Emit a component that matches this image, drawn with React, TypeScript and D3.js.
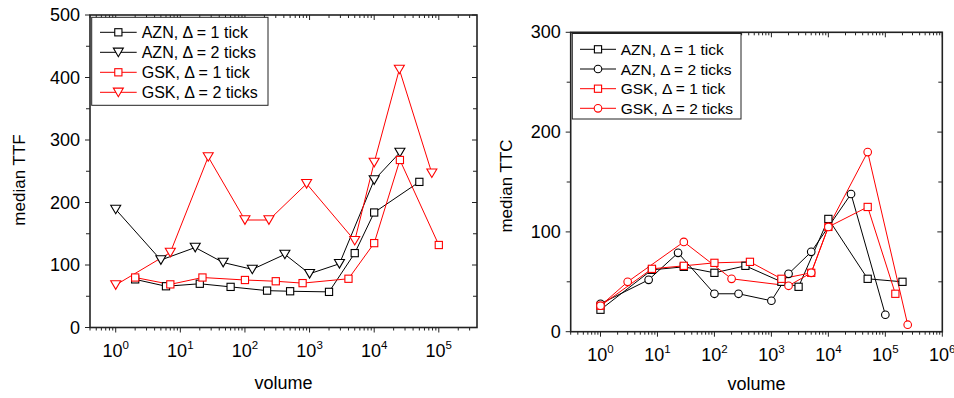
import React from "react";
import * as d3 from "d3";

// ---------- Data: left panel (median TTF) ----------
const aznTick1Vol = [2, 6, 20, 60, 220, 500, 2000, 5000, 10000, 50000];
const aznTick1TTF = [77, 66, 70, 65, 59, 58, 57, 119, 184, 233];
const aznTick2Vol = [1, 5, 17, 46, 130, 415, 1000, 2900, 10000, 25000];
const aznTick2TTF = [189, 108, 128, 104, 93, 117, 86, 102, 236, 280];
const gskTick1Vol = [2, 7, 22, 100, 300, 780, 4000, 10000, 25000, 100000];
const gskTick1TTF = [80, 69, 80, 76, 74, 71, 78, 135, 268, 132];
const gskTick2Vol = [1, 7, 27, 100, 235, 900, 5000, 10000, 24500, 78000];
const gskTick2TTF = [68, 120, 273, 172, 172, 230, 139, 264, 413, 247];

// ---------- Data: right panel (median TTC) ----------
const aznC1Vol = [1, 8, 29, 100, 350, 1500, 3000, 10000, 49000, 200000];
const aznC1TTC = [22, 62, 65, 59, 66, 50, 45, 113, 53, 50];
const aznC2Vol = [1, 7, 23, 100, 265, 1000, 2000, 5000, 25000, 100000];
const aznC2TTC = [28, 52, 79, 38, 38, 31, 58, 80, 138, 17];
const gskC1Vol = [1, 8, 29, 100, 420, 1500, 5000, 10000, 49000, 150000];
const gskC1TTC = [26, 63, 66, 69, 70, 53, 59, 105, 125, 38];
const gskC2Vol = [1, 3, 29, 200, 2000, 5000, 10000, 49000, 247000];
const gskC2TTC = [26, 50, 90, 53, 46, 59, 105, 180, 7];

const leftLabels = ["AZN, \u0394 = 1 tick", "AZN, \u0394 = 2 ticks", "GSK, \u0394 = 1 tick", "GSK, \u0394 = 2 ticks"];
const rightLabels = leftLabels;

const FONT = "'Liberation Sans', Arial, Helvetica, sans-serif";

type Shape = "square" | "triangle" | "circle";
type Series = { xs: number[]; ys: number[]; color: string; shape: Shape; label: string };

function Marker({ shape, x, y, color }: { shape: Shape; x: number; y: number; color: string }) {
  if (shape === "square")
    return <rect x={x - 3.6} y={y - 3.6} width={7.2} height={7.2} fill="white" stroke={color} strokeWidth={1.1} />;
  if (shape === "circle") return <circle cx={x} cy={y} r={3.8} fill="white" stroke={color} strokeWidth={1.1} />;
  return (
    <polygon
      points={`${x - 5},${y - 4.2} ${x + 5},${y - 4.2} ${x},${y + 4.4}`}
      fill="white"
      stroke={color}
      strokeWidth={1.1}
    />
  );
}

type PanelProps = {
  x0: number; x1: number; y0: number; y1: number;
  xDomain: [number, number]; yMax: number; yMinorStep: number; yMajorStep: number;
  series: Series[]; yTitle: string; yTitleX: number; yTitleY: number; xTitleY: number;
  legend: { x: number; y: number; w: number; h: number; rows: number[]; lx0: number; lx1: number; tx: number; fs: number };
};

function Panel(p: PanelProps) {
  const xs = d3.scaleLog().domain(p.xDomain).range([p.x0, p.x1]);
  const ys = d3.scaleLinear().domain([0, p.yMax]).range([p.y1, p.y0]);
  const xt = xs.ticks();
  const yt = d3.range(0, p.yMax + 0.001, p.yMinorStep);
  const line = d3.line<[number, number]>().x((d) => xs(d[0])).y((d) => ys(d[1]));
  const isMajorX = (t: number) => Math.abs(Math.log10(t) - Math.round(Math.log10(t))) < 1e-9;
  const axisColor = "#222";
  return (
    <g fontFamily={FONT}>
      {p.series.map((s, i) => (
        <path key={"l" + i} d={line(s.xs.map((x, j) => [x, s.ys[j]]) as [number, number][]) || ""} fill="none" stroke={s.color} strokeWidth={1} />
      ))}
      {p.series.map((s, i) => (
        <g key={"m" + i}>
          {s.xs.map((x, j) => (
            <Marker key={j} shape={s.shape} x={xs(x)} y={ys(s.ys[j])} color={s.color} />
          ))}
        </g>
      ))}
      {xt.map((t, i) => {
        const X = xs(t);
        const len = isMajorX(t) ? 5 : 3;
        return (
          <g key={"xt" + i}>
            <line x1={X} x2={X} y1={p.y1} y2={p.y1 + len} stroke={axisColor} strokeWidth={1} />
            <line x1={X} x2={X} y1={p.y0} y2={p.y0 + len} stroke={axisColor} strokeWidth={1} />
          </g>
        );
      })}
      {xt.filter(isMajorX).map((t, i) => (
        <text key={"xl" + i} x={xs(t)} y={p.y1 + 29} fontSize={18} textAnchor="middle" fill="#000">
          10
          <tspan fontSize={11.5} dy={-8}>
            {Math.round(Math.log10(t))}
          </tspan>
        </text>
      ))}
      {yt.map((t, i) => {
        const Y = ys(t);
        const major = Math.abs(t % p.yMajorStep) < 1e-9;
        const len = major ? 5 : 4;
        return (
          <g key={"yt" + i}>
            <line x1={p.x0 - len} x2={p.x0} y1={Y} y2={Y} stroke={axisColor} strokeWidth={1} />
            <line x1={p.x1 - len} x2={p.x1} y1={Y} y2={Y} stroke={axisColor} strokeWidth={1} />
            {major && (
              <text x={p.x0 - 10} y={Y + 6} fontSize={18} textAnchor="end" fill="#000">
                {t}
              </text>
            )}
          </g>
        );
      })}
      <rect x={p.x0} y={p.y0} width={p.x1 - p.x0} height={p.y1 - p.y0} fill="none" stroke={axisColor} strokeWidth={1.6} />
      <rect x={p.legend.x} y={p.legend.y} width={p.legend.w} height={p.legend.h} fill="white" stroke={axisColor} strokeWidth={1} />
      {p.series.map((s, i) => {
        const ry = p.legend.rows[i];
        return (
          <g key={"lg" + i}>
            <line x1={p.legend.lx0} x2={p.legend.lx1} y1={ry} y2={ry} stroke={s.color} strokeWidth={1} />
            <Marker shape={s.shape} x={(p.legend.lx0 + p.legend.lx1) / 2} y={ry} color={s.color} />
            <text x={p.legend.tx} y={ry + p.legend.fs * 0.36} fontSize={p.legend.fs} fill="#000">
              {s.label}
            </text>
          </g>
        );
      })}
      <text x={(p.x0 + p.x1) / 2} y={p.xTitleY} fontSize={18} textAnchor="middle" fill="#000">
        volume
      </text>
      <text
        transform={`translate(${p.yTitleX},${p.yTitleY}) rotate(-90)`}
        fontSize={17}
        textAnchor="middle"
        fill="#000"
      >
        {p.yTitle}
      </text>
    </g>
  );
}

export default function App() {
  const black = "#000000";
  const red = "#ff0000";
  const leftSeries: Series[] = [
    { xs: aznTick1Vol, ys: aznTick1TTF, color: black, shape: "square", label: leftLabels[0] },
    { xs: aznTick2Vol, ys: aznTick2TTF, color: black, shape: "triangle", label: leftLabels[1] },
    { xs: gskTick1Vol, ys: gskTick1TTF, color: red, shape: "square", label: leftLabels[2] },
    { xs: gskTick2Vol, ys: gskTick2TTF, color: red, shape: "triangle", label: leftLabels[3] },
  ];
  const rightSeries: Series[] = [
    { xs: aznC1Vol, ys: aznC1TTC, color: black, shape: "square", label: rightLabels[0] },
    { xs: aznC2Vol, ys: aznC2TTC, color: black, shape: "circle", label: rightLabels[1] },
    { xs: gskC1Vol, ys: gskC1TTC, color: red, shape: "square", label: rightLabels[2] },
    { xs: gskC2Vol, ys: gskC2TTC, color: red, shape: "circle", label: rightLabels[3] },
  ];
  return (
    <svg
      width={954}
      height={398}
      style={{ position: "absolute", left: 0, top: 0, background: "white" }}
    >
      <rect width={954} height={398} fill="white" />
      <Panel
        x0={90} x1={477} y0={15} y1={327.5}
        xDomain={[0.4, 3.9e5]} yMax={500} yMinorStep={50} yMajorStep={100}
        series={leftSeries}
        yTitle="median TTF" yTitleX={25} yTitleY={180} xTitleY={388.5}
        legend={{ x: 91.7, y: 17.3, w: 176.3, h: 88, rows: [32.3, 52.3, 72.3, 92.3], lx0: 100, lx1: 136.7, tx: 141.7, fs: 16 }}
      />
      <Panel
        x0={570.7} x1={942.3} y0={32.3} y1={331.7}
        xDomain={[0.3, 1e6]} yMax={300} yMinorStep={50} yMajorStep={100}
        series={rightSeries}
        yTitle="median TTC" yTitleX={511.5} yTitleY={186} xTitleY={390}
        legend={{ x: 572.3, y: 33.5, w: 168.7, h: 85.5, rows: [49.3, 69, 88.7, 108.3], lx0: 580, lx1: 616, tx: 620.7, fs: 15.5 }}
      />
    </svg>
  );
}
